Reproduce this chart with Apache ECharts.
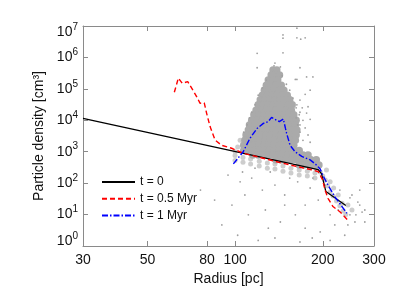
<!DOCTYPE html>
<html><head><meta charset="utf-8">
<script src="https://cdn.jsdelivr.net/npm/echarts@6/dist/echarts.min.js"></script>
<style>html,body{margin:0;padding:0;background:#fff}#c{width:399px;height:299px}</style>
</head><body><div id="c"></div>
<script>
// ---- data ----
const xTicks = [30, 50, 80, 100, 200, 300];
const yTickExps = [0, 1, 2, 3, 4, 5, 6, 7];
const seriesNames = ['t = 0', 't = 0.5 Myr', 't = 1 Myr'];

const r0 = [30, 193, 198, 205, 240];
const n0 = [1.15e4, 270, 200, 54, 19.5];

const rHalf = [61.8, 63.8, 65.8, 68.7, 70.9, 73.8, 75.7, 78.3, 79.8, 82, 85.3, 89.9, 97.3, 106.6, 124.9, 142.6, 154.4, 185.3, 193.2, 199.9, 203.6, 208.5, 216.8, 229, 243.3];
const nHalf = [7.8e4, 2.2e5, 1.5e5, 1.7e5, 1.05e5, 5.6e4, 3.5e4, 3.6e4, 1.66e4, 6.3e3, 2.35e3, 1.6e3, 1.29e3, 890, 620, 450, 380, 260, 230, 126, 60, 33, 18, 12.3, 6.8];

const rOne = [98.6, 106.6, 112.5, 118.9, 125, 130, 133.4, 137, 141.8, 146.4, 148.9, 150.2, 154.4, 160.6, 169.4, 181, 189, 196, 200.6, 209, 220, 233, 242];
const nOne = [410, 1000, 2700, 5500, 8000, 9100, 1.24e4, 1.07e4, 9100, 1.1e4, 5500, 3900, 1600, 1000, 710, 550, 400, 280, 170, 83, 37, 18, 11];

// dense particle cloud: one density per row, radii of the particles on that row
const coreN = [4.0e5, 2.75e5, 1.9e5, 1.3e5, 9.1e4, 6.3e4, 4.5e4, 3.1e4, 2.1e4, 1.5e4, 1.0e4, 7.1e3, 4.9e3, 3.4e3, 2.3e3, 1.6e3, 1.1e3, 790, 550, 380];
const coreR = [
  [135, 139],
  [133, 137, 142],
  [130, 135, 140],
  [128, 133, 138, 144],
  [126, 131, 136, 142, 147],
  [124, 129, 134, 139, 145, 151],
  [122, 127, 132, 137, 143, 148, 154],
  [120, 125, 130, 135, 140, 146, 152, 157],
  [118, 123, 128, 133, 138, 144, 150, 156],
  [116, 121, 126, 131, 136, 142, 147, 153, 159],
  [114, 119, 124, 129, 134, 139, 145, 151, 157, 162],
  [112, 117, 122, 127, 132, 137, 143, 148, 154, 161],
  [111, 115, 120, 125, 130, 135, 140, 146, 152, 158, 163],
  [109, 113, 118, 123, 128, 133, 138, 144, 150, 156, 162],
  [108, 112, 117, 122, 127, 132, 137, 143, 148, 154, 161],
  [107, 112, 116, 121, 126, 131, 136, 142, 147, 153, 159],
  [107, 112, 116, 121, 126, 131, 136, 142, 147, 153, 159, 166],
  [115, 120, 125, 130, 135, 140, 146, 152, 158, 164, 171, 178],
  [138, 144, 150, 156, 162, 168, 175, 182, 190],
  [166, 172, 179, 187, 194]
];

// medium-density particles [radius, density]
const bandPts = [
  [99.9, 760], [99.9, 530], [106.4, 660], [106.4, 460], [113, 590], [113, 410], [121, 500], [121, 350],
  [129, 440], [129, 300], [137, 410], [137, 280], [146, 350], [146, 240], [155.5, 300], [155.5, 210],
  [166, 260], [166, 180], [177, 240], [177, 170], [188, 210], [188, 145],
  [104, 2300], [102, 1400], [100, 1000],
  [196, 226], [204, 126], [200, 170], [208, 81], [212, 52], [217, 39], [223, 27], [229, 19], [235, 13],
  [218, 70], [226, 42], [233, 23], [240, 10], [244, 20], [252, 14], [212, 110], [206, 260], [190, 260], [181, 300]
];

// sparse particles [radius, density]
const sparsePts = [
  [146, 5.2e6], [146, 4.1e6], [163, 8.5e6], [163, 4.2e6], [168, 3.8e6], [119, 1.35e6], [146, 1.4e6], [119, 4.7e5],
  [163, 2.0e5], [176, 2.4e5], [185, 2.4e5], [181, 9.1e4], [178, 2.7e4], [167, 4.4e4], [174, 6.7e4], [176, 1.7e4],
  [181, 1.07e4], [174, 4.2e6], [167, 4.7e5], [161, 2.0e5], [143, 5e5], [137, 6.6e5], [136, 5.4e5],
  [120, 6.3e4], [117, 3.1e4], [114, 1.8e4], [112, 1.2e4], [124, 1.07e5], [128, 1.9e5], [110, 7.1e3], [107, 4.2e3],
  [154, 9.1e4], [158, 5.1e4], [162, 2.5e4], [166, 1.5e4], [150, 1.4e5], [145, 2.6e5], [167, 7.1e3],
  [163, 3.1e4], [167, 1.8e4], [171, 1.0e4], [164, 7.1e3], [174, 5.7e3], [167, 4.2e3], [178, 3.4e3], [171, 2.3e3],
  [181, 2.0e3], [162, 1.2e4], [170, 2.5e4],
  [94.5, 180], [104, 110], [114, 145], [124, 60], [137, 87], [148, 42], [164, 110], [181, 70], [193, 29],
  [97.5, 20], [111, 9.8], [127, 14], [143, 5.8], [161, 9.8], [174, 3.7], [196, 2.8], [220, 4.7], [248, 9.8],
  [268, 20], [258, 5.8], [238, 2.2], [102, 2.2], [120, 1.5], [137, 1.8], [167, 1.34], [212, 1.5], [85, 29],
  [90, 4.7], [154, 145], [132, 226], [117, 300], [106, 226], [185, 145], [204, 87], [229, 60], [248, 34],
  [273, 12], [226, 14], [212, 9.8], [174, 20], [108, 42], [148, 20], [130, 3.7], [184, 1.8], [76, 60],
  [252, 42], [264, 25], [279, 14], [260, 9.8], [268, 60], [244, 4.7], [279, 5.8]
];

// ---- build ----
const L = Math.log10;
const toXY = (r, n) => [L(r), L(n)];
const coreData = [];
coreN.forEach((n, i) => coreR[i].forEach(r => coreData.push(toXY(r, n))));
const bandData = bandPts.map(p => toXY(p[0], p[1]));
const sparseData = sparsePts.map(p => toXY(p[0], p[1]));
const lineData = (rs, ns) => rs.map((r, i) => toXY(r, ns[i]));

const FONT = 'Liberation Sans';
const AX = '#8a8a8a';
const xTickVals = xTicks.map(v => L(v));

const baseX = {
  type: 'value', min: L(30), max: L(300), splitLine: { show: false },
  axisLine: { show: true, onZero: false, lineStyle: { color: AX, width: 1 } },
  axisTick: { show: true, inside: true, length: 5, customValues: xTickVals, lineStyle: { color: AX } }
};
const baseY = {
  type: 'value', min: 0, max: 7, interval: 1, splitLine: { show: false },
  axisLine: { show: true, onZero: false, lineStyle: { color: AX, width: 1 } },
  axisTick: { show: true, inside: true, length: 5, lineStyle: { color: AX } }
};

const tok = (fs, pad) => ({ fontSize: fs, fontFamily: FONT, color: '#111', padding: pad, verticalAlign: 'middle' });

const option = {
  animation: false,
  grid: { left: 83, right: 25, top: 26, bottom: 53 },
  legend: {
    orient: 'vertical', left: 101, top: 176, padding: 0,
    itemWidth: 33, itemHeight: 14, itemGap: 4.7,
    data: seriesNames,
    itemStyle: { opacity: 0 },
    textStyle: { fontSize: 12, fontFamily: FONT, color: '#111' }
  },
  xAxis: [
    Object.assign({}, baseX, {
      position: 'bottom',
      axisLabel: { show: true, customValues: xTickVals, formatter: v => String(Math.round(Math.pow(10, v))),
        fontSize: 14, fontFamily: FONT, color: '#111', margin: 7 },
      name: 'Radius [pc]', nameLocation: 'middle', nameGap: 23,
      nameTextStyle: { fontSize: 14, fontFamily: FONT, color: '#111' }
    }),
    Object.assign({}, baseX, { position: 'top', axisLabel: { show: false } })
  ],
  yAxis: [
    Object.assign({}, baseY, {
      position: 'left',
      axisLabel: {
        show: true, margin: 5,
        formatter: v => {
          const e = Math.round(v);
          const k = e === yTickExps[yTickExps.length - 1] ? 't' : (e === yTickExps[0] ? 'b' : 'm');
          return '{' + k + 'B|10}{' + k + 'E|' + e + '}';
        },
        rich: {
          mB: tok(14, [0, 0, 0, 0]), mE: tok(10, [0, 0, 10, 0]),
          tB: tok(14, [12, 0, 0, 0]), tE: tok(10, [2, 0, 0, 0]),
          bB: tok(14, [0, 0, 10, 0]), bE: tok(10, [0, 0, 19, 0])
        }
      },
      name: 'Particle density [cm³]', nameLocation: 'middle', nameGap: 37,
      nameTextStyle: { fontSize: 14, fontFamily: FONT, color: '#111' }
    }),
    Object.assign({}, baseY, { position: 'right', axisLabel: { show: false } })
  ],
  series: [
    { type: 'scatter', silent: true, data: bandData, symbol: 'circle', symbolSize: 5,
      itemStyle: { color: '#cdcdcd', opacity: 1, borderWidth: 0 }, z: 1 },
    { type: 'scatter', silent: true, data: coreData, symbol: 'circle', symbolSize: 7.5,
      itemStyle: { color: '#aaaaaa', opacity: 1, borderWidth: 0 }, z: 1 },
    { type: 'scatter', silent: true, data: sparseData, symbol: 'circle', symbolSize: 1.8,
      itemStyle: { color: '#a0a0a0', opacity: 1, borderWidth: 0 }, z: 1 },
    { name: seriesNames[0], type: 'line', data: lineData(r0, n0), symbol: 'none', silent: true,
      lineStyle: { color: '#000', width: 1.3, type: 'solid' }, itemStyle: { color: '#000' }, z: 3 },
    { name: seriesNames[1], type: 'line', data: lineData(rHalf, nHalf), symbol: 'none', silent: true,
      lineStyle: { color: '#ff0000', width: 1.4, type: [5, 3] }, itemStyle: { color: '#ff0000' }, z: 4 },
    { name: seriesNames[2], type: 'line', data: lineData(rOne, nOne), symbol: 'none', silent: true,
      lineStyle: { color: '#0000ff', width: 1.4, type: [6, 2, 1.5, 2] }, itemStyle: { color: '#0000ff' }, z: 5 }
  ]
};
const chart = echarts.init(document.getElementById('c'), null, { renderer: 'canvas' });
chart.setOption(option);
</script></body></html>
